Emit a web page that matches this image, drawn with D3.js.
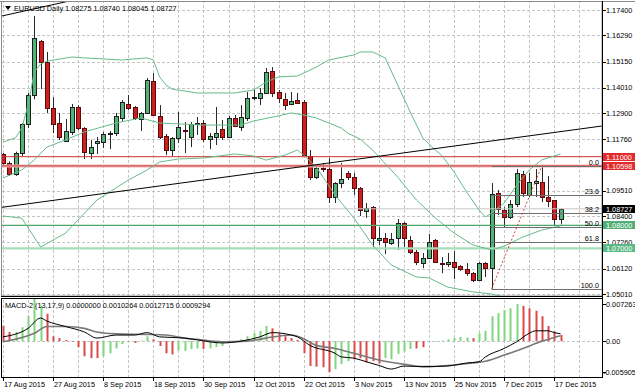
<!DOCTYPE html>
<html><head><meta charset="utf-8">
<script src="https://cdn.jsdelivr.net/npm/d3@7/dist/d3.min.js"></script>
<style>
html,body{margin:0;padding:0;background:#fff;}
svg{display:block;font-family:"Liberation Sans",Arial,sans-serif;}
</style></head><body>
<svg id="c" width="635" height="391"></svg>
<script>
// ---------------- DATA ----------------
const dateTickLabels = ["17 Aug 2015","27 Aug 2015","8 Sep 2015","18 Sep 2015","30 Sep 2015","12 Oct 2015","22 Oct 2015","3 Nov 2015","13 Nov 2015","25 Nov 2015","7 Dec 2015","17 Dec 2015"];
const dateTickBars = [0,8,16,24,32,40,48,56,64,72,80,88];
const priceTicks = [1.17400,1.16290,1.15150,1.14010,1.12900,1.11760,1.10620,1.09510,1.08400,1.07260,1.06120,1.05010];

const open  = [1.1110,1.1074,1.1024,1.1116,1.1243,1.1370,1.1605,1.1513,1.1312,1.1247,
               1.1168,1.1208,1.1317,1.1225,1.1116,1.1160,1.1164,1.1199,1.1203,1.1269,
               1.1330,1.1317,1.1264,1.1291,1.1430,1.1278,1.1190,1.1129,1.1182,1.1216,
               1.1186,1.1243,1.1247,1.1177,1.1186,1.1221,1.1186,1.1269,1.1229,1.1269,
               1.1356,1.1356,1.1378,1.1474,1.1382,1.1352,1.1330,1.1347,1.1339,1.1103,
               1.1011,1.1051,1.1046,1.0924,1.0985,1.1029,1.1011,1.0963,1.0863,1.0880,
               1.0736,1.0745,1.0723,1.0745,1.0811,1.0736,1.0684,1.0636,1.0658,1.0736,
               1.0636,1.0632,1.0640,1.0623,1.0610,1.0592,1.0562,1.0636,1.0614,1.0941,
               1.0867,1.0837,1.0894,1.1024,1.0933,1.0985,1.0989,1.0924,1.0911,1.08275];
const high  = [1.1116,1.1080,1.1122,1.1247,1.1378,1.1714,1.1609,1.1557,1.1360,1.1291,
               1.1264,1.1330,1.1325,1.1229,1.1173,1.1186,1.1208,1.1212,1.1291,1.1347,
               1.1369,1.1321,1.1295,1.1443,1.1465,1.1325,1.1199,1.1186,1.1295,1.1251,
               1.1251,1.1273,1.1260,1.1203,1.1317,1.1260,1.1278,1.1282,1.1325,1.1382,
               1.1395,1.1400,1.1487,1.1491,1.1391,1.1378,1.1382,1.1378,1.1347,1.1129,
               1.1064,1.1072,1.1094,1.0989,1.1072,1.1038,1.1029,1.0968,1.0898,1.0885,
               1.0793,1.0767,1.0767,1.0828,1.0815,1.0754,1.0693,1.0680,1.0763,1.0741,
               1.0662,1.0680,1.0688,1.0627,1.0636,1.0597,1.0640,1.0640,1.0985,1.0955,
               1.0880,1.0911,1.1046,1.1038,1.1029,1.1046,1.10598,1.1016,1.0911,1.08740];
const low   = [1.1062,1.1016,1.1016,1.1103,1.1225,1.1350,1.1395,1.1291,1.1203,1.1173,
               1.1164,1.1195,1.1216,1.1090,1.1090,1.1112,1.1138,1.1133,1.1190,1.1256,
               1.1304,1.1260,1.1212,1.1286,1.1278,1.1177,1.1107,1.1103,1.1160,1.1116,
               1.1142,1.1195,1.1164,1.1133,1.1151,1.1173,1.1182,1.1229,1.1212,1.1256,
               1.1347,1.1325,1.1373,1.1360,1.1334,1.1304,1.1325,1.1330,1.1103,1.0998,
               1.1003,1.1033,1.0898,1.0898,1.0963,1.0998,1.0933,1.0841,1.0833,1.0706,
               1.0715,1.0675,1.0715,1.0693,1.0706,1.0675,1.0627,1.0614,1.0654,1.0636,
               1.0592,1.0619,1.0566,1.0602,1.0580,1.0553,1.0558,1.0575,1.0524,1.0846,
               1.0793,1.0828,1.0880,1.0924,1.0924,1.0924,1.0902,1.0880,1.0802,1.08045];
const close = [1.1074,1.1024,1.1116,1.1243,1.1370,1.1618,1.1513,1.1312,1.1243,1.1186,
               1.1212,1.1317,1.1225,1.1120,1.1142,1.1168,1.1199,1.1203,1.1278,1.1339,
               1.1312,1.1269,1.1291,1.1435,1.1282,1.1186,1.1129,1.1182,1.1229,1.1212,
               1.1243,1.1247,1.1177,1.1190,1.1203,1.1186,1.1269,1.1234,1.1273,1.1356,
               1.1360,1.1378,1.1470,1.1378,1.1356,1.1325,1.1343,1.1334,1.1107,1.1011,
               1.1051,1.1046,1.0924,1.0985,1.1003,1.1011,1.0963,1.0867,1.0876,1.0745,
               1.0745,1.0728,1.0741,1.0811,1.0745,1.0684,1.0640,1.0658,1.0728,1.0640,
               1.0634,1.0640,1.0619,1.0610,1.0592,1.0562,1.0636,1.0614,1.0937,1.0872,
               1.0837,1.0894,1.1029,1.0941,1.0989,1.0994,1.0924,1.0907,1.0828,1.08727];

// Bollinger bands, read at sample bars: [bar, price]
const bbUpper = [[0,1.1164],[2,1.1182],[3,1.1225],[4,1.1325],[5,1.1470],[6,1.1504],[7,1.1517],[11,1.1535],[13,1.1531],[19,1.1522],[23,1.1531],[24,1.1522],[25,1.1448],[26,1.1413],[27,1.1395],[31,1.1378],[37,1.1378],[40,1.1391],[42,1.1426],[44,1.1448],[47,1.1452],[50,1.1491],[52,1.1522],[56,1.1544],[57,1.1557],[59,1.1557],[61,1.1531],[63,1.1413],[65,1.1295],[67,1.1182],[69,1.1129],[70,1.1107],[72,1.1033],[74,1.0946],[76,1.0867],[77,1.0837],[78,1.0854],[80,1.0898],[82,1.0976],[84,1.1042],[86,1.1086],[89,1.1112]];
const bbMiddle = [[0,1.1007],[3,1.1042],[5,1.1086],[7,1.1142],[10,1.1173],[13,1.1208],[18,1.1247],[22,1.1269],[25,1.1247],[32,1.1238],[38,1.1238],[40,1.1256],[44,1.1278],[46,1.1291],[48,1.1282],[50,1.1269],[54,1.1225],[55,1.1203],[57,1.1177],[59,1.1129],[63,1.1011],[66,1.0911],[69,1.0833],[72,1.0767],[75,1.0715],[78,1.0693],[80,1.0710],[83,1.0750],[86,1.0780],[89,1.0798]];
const bbLower = [[0,1.0841],[3,1.0832],[6,1.0706],[10,1.0767],[15,1.0911],[20,1.0998],[23,1.1042],[25,1.1077],[28,1.1090],[32,1.1094],[37,1.1112],[40,1.1103],[42,1.1085],[45,1.1107],[47,1.1129],[48,1.1107],[50,1.1055],[53,1.0933],[56,1.0833],[59,1.0715],[62,1.0627],[66,1.0575],[68,1.0571],[71,1.0531],[75,1.0510],[78,1.0501],[80,1.0488],[83,1.0431],[86,1.0387],[89,1.0366]];

// Horizontal levels
const levelRed1 = 1.11000;
const levelRed2 = 1.10598;
const levelGreen1 = 1.08000;
const levelGreen2 = 1.07000;
const lastPrice = 1.08727;

// Fibonacci retracement anchors
const fibLowBar = 78, fibLowPrice = 1.0524;
const fibHighBar = 86, fibHighPrice = 1.10598;
const fibLevels = [0.0, 23.6, 38.2, 50.0, 61.8, 100.0];

// Trend lines: [[bar, price],[bar, price]]
const trendMain = [[-0.16,1.08792],[95.6,1.12339]];
const trendTop  = [[-0.16,1.1714],[14,1.1800]];

// MACD-2 (13,17,9)
const macdHist = [0.0025,0.0015,0.0015,0.0023,0.0041,0.0071,0.0058,0.0045,0.0008,0.0005,
                  0.0002,-0.0001,-0.0010,-0.0025,-0.0028,-0.0028,-0.0025,-0.0020,-0.0012,-0.0005,
                  -0.0001,-0.0003,0.0001,0.0008,0.0003,-0.0008,-0.0020,-0.0022,-0.0015,-0.0016,
                  -0.0013,-0.0012,-0.0013,-0.0012,-0.0010,-0.0008,-0.0002,0.0000,0.0003,0.0008,
                  0.0013,0.0017,0.0025,0.0021,0.0013,0.0008,0.0005,0.0002,-0.0020,-0.0041,
                  -0.0042,-0.0043,-0.0051,-0.0046,-0.0038,-0.0033,-0.0030,-0.0028,-0.0035,-0.0033,
                  -0.0037,-0.0028,-0.0030,-0.0021,-0.0017,-0.0013,-0.0012,-0.0010,0.0000,0.0000,
                  0.0001,0.0003,0.0005,0.0007,0.0006,0.0005,0.0013,0.0017,0.0041,0.0046,
                  0.0051,0.0054,0.0061,0.0058,0.0054,0.0050,0.0041,0.0025,0.0016,0.0010];
const macdHistUp = [0,0,1,1,1,1,1,0,0,0, 0,0,0,0,0,0,1,1,1,1, 1,0,1,1,0,0,0,0,1,1,
                    1,1,0,1,1,1,1,1,1,1, 1,1,1,0,0,0,0,0,0,0, 0,0,0,1,1,1,0,0,0,0,
                    0,1,1,1,1,1,0,0,1,1, 1,1,1,1,1,0,1,1,1,1, 1,1,1,0,0,0,0,0,0,0];
const macdMain = [[0,0.0007],[4,0.0021],[6,0.0038],[7,0.0033],[10,0.0024],[13,0.0015],[15,0.0005],[18,0.0010],[21,0.0010],[23,0.0014],[25,0.0007],[29,0.0005],[31,0.0002],[35,-0.0003],[38,0.0000],[41,0.0007],[43,0.0014],[46,0.0010],[47,0.0007],[49,-0.0007],[53,-0.0020],[54,-0.0026],[56,-0.0028],[58,-0.0034],[60,-0.0040],[62,-0.0046],[64,-0.0041],[67,-0.0042],[71,-0.0041],[74,-0.0036],[76,-0.0034],[77,-0.0026],[80,-0.0012],[82,-0.0001],[84,0.0013],[85,0.0017],[87,0.0017],[88,0.0014],[89,0.0012]];
const macdSignal = [[0,-0.0001],[5,0.0013],[7,0.0024],[10,0.0024],[13,0.0021],[15,0.0015],[18,0.0012],[23,0.0011],[26,0.0010],[29,0.0005],[31,0.0003],[35,-0.0001],[39,0.0000],[42,0.0005],[46,0.0010],[48,0.0004],[50,-0.0007],[53,-0.0012],[56,-0.0020],[60,-0.0031],[64,-0.0038],[67,-0.0042],[71,-0.0040],[75,-0.0036],[77,-0.0033],[80,-0.0023],[83,-0.0012],[86,0.0000],[88,0.0006],[89,0.0009]];
const macdScaleMax = 0.007263, macdScaleMin = -0.005905;

// ---------------- DRAW ----------------
const svg = d3.select("#c");
const fnt = 7.3;
const plotL = 2, plotR = 602, mainT = 2, mainB = 296, subT = 299, subB = 377;

const x = d3.scaleLinear().domain([0, 89]).range([3, 3 + 89 * 6.265]);
const y = d3.scaleLinear().domain([1.0501, 1.1740]).range([294, 10]);
const ym = d3.scaleLinear().domain([macdScaleMin, macdScaleMax]).range([377, 297]);
const px = v => Math.round(v) + 0.5;

const defs = svg.append("defs");
defs.append("clipPath").attr("id","clipMain").append("rect").attr("x",plotL).attr("y",mainT).attr("width",plotR-plotL).attr("height",mainB-mainT);
defs.append("clipPath").attr("id","clipSub").append("rect").attr("x",plotL).attr("y",subT).attr("width",plotR-plotL).attr("height",subB-subT);

svg.append("rect").attr("width",635).attr("height",391).attr("fill","#fff");

const gMain = svg.append("g").attr("clip-path","url(#clipMain)");
const gSub = svg.append("g").attr("clip-path","url(#clipSub)");

const gridCol = "#c4c4c4";
// vertical grid
const gridBars = d3.range(0, 100, 4).filter(b => x(b) < plotR - 1);
gridBars.forEach(b => {
  [gMain, gSub].forEach(g => g.append("line")
    .attr("x1", px(x(b))).attr("x2", px(x(b)))
    .attr("y1", 0).attr("y2", 391)
    .attr("stroke", gridCol).attr("stroke-dasharray","3,2"));
});
// horizontal grid
priceTicks.forEach(t => {
  gMain.append("line").attr("x1",plotL).attr("x2",plotR)
    .attr("y1",px(y(t))).attr("y2",px(y(t)))
    .attr("stroke",gridCol).attr("stroke-dasharray","3,2");
});
gSub.append("line").attr("x1",plotL).attr("x2",plotR)
  .attr("y1",px(ym(0))).attr("y2",px(ym(0)))
  .attr("stroke",gridCol).attr("stroke-dasharray","3,2");

// candles
const idx = d3.range(open.length);
const cg = gMain.append("g");
idx.forEach(i => {
  const cx = Math.round(x(i));
  const up = close[i] >= open[i];
  cg.append("line").attr("x1",cx+0.5).attr("x2",cx+0.5)
    .attr("y1",y(high[i])).attr("y2",y(low[i]))
    .attr("stroke","#2a2a2a").attr("stroke-width",1);
  const top = Math.round(y(Math.max(open[i],close[i])));
  const bot = Math.round(y(Math.min(open[i],close[i])));
  const h = Math.max(bot - top, 1);
  cg.append("rect").attr("x",cx-1.5).attr("y",top+0.5).attr("width",4).attr("height",h)
    .attr("fill", up ? "#52b377" : "#cc1f1f")
    .attr("stroke", up ? "#1e1e1e" : "#5a0a0a").attr("stroke-width",1);
});

// horizontal level lines
const hline = (g, v, col, w) => g.append("line").attr("x1",plotL).attr("x2",plotR)
  .attr("y1",y(v)).attr("y2",y(v)).attr("stroke",col).attr("stroke-width",w);
hline(gMain, lastPrice, "#c6c6c6", 1);
hline(gMain, levelGreen2, "#a8ddb9", 2.2);
hline(gMain, levelGreen1, "#4ea86e", 1.2);
hline(gMain, levelRed2, "#f1b3b3", 3);
hline(gMain, levelRed2, "#cf3a3a", 1);
hline(gMain, levelRed1, "#cc3030", 1);

// Bollinger bands
const bbLine = d3.line().x(d => x(d[0])).y(d => y(d[1]));
[bbUpper, bbMiddle, bbLower].forEach(arr => {
  gMain.append("path").attr("d", bbLine(arr)).attr("fill","none")
    .attr("stroke","#66bb8a").attr("stroke-width",1);
});

// Fibonacci
const fibRange = fibHighPrice - fibLowPrice;
fibLevels.forEach(l => {
  const v = fibHighPrice - fibRange * l / 100;
  gMain.append("line").attr("x1", x(fibLowBar)).attr("x2", plotR)
    .attr("y1", px(y(v))).attr("y2", px(y(v)))
    .attr("stroke","#6e6e6e").attr("stroke-width",1);
  svg.append("text").attr("x", 599).attr("y", px(y(v)) - 2)
    .attr("text-anchor","end").attr("font-size",fnt).attr("fill","#000")
    .text(l.toFixed(1));
});
gMain.append("line").attr("x1",x(fibLowBar)).attr("y1",y(fibLowPrice))
  .attr("x2",x(fibHighBar)).attr("y2",y(fibHighPrice))
  .attr("stroke","#e03a3a").attr("stroke-dasharray","2,2").attr("stroke-width",1);

// trend lines
[trendMain, trendTop].forEach(t => {
  gMain.append("line").attr("x1",x(t[0][0])).attr("y1",y(t[0][1]))
    .attr("x2",x(t[1][0])).attr("y2",y(t[1][1]))
    .attr("stroke","#000").attr("stroke-width",1);
});

// MACD histogram
idx.forEach(i => {
  const v = macdHist[i];
  const y0 = ym(0), y1 = ym(v);
  gSub.append("rect").attr("x", Math.round(x(i)) - 0.5).attr("width", 2)
    .attr("y", Math.min(y0,y1)).attr("height", Math.max(Math.abs(y1-y0), 0.5))
    .attr("fill", macdHistUp[i] ? "#7fd67f" : "#d94a4a");
});
const mLine = d3.line().x(d => x(d[0])).y(d => ym(d[1])).curve(d3.curveMonotoneX);
gSub.append("path").attr("d", mLine(macdSignal)).attr("fill","none").attr("stroke","#7a7a7a").attr("stroke-width",1.6);
gSub.append("path").attr("d", mLine(macdMain)).attr("fill","none").attr("stroke","#000").attr("stroke-width",1);

// frames
svg.append("line").attr("x1",0).attr("x2",635).attr("y1",1.5).attr("y2",1.5).attr("stroke","#8c8c8c");
svg.append("rect").attr("x",1.5).attr("y",1.5).attr("width",plotR-1.5).attr("height",mainB-1.5)
  .attr("fill","none").attr("stroke","#8c8c8c");
svg.append("line").attr("x1",1).attr("x2",plotR).attr("y1",296.5).attr("y2",296.5).attr("stroke","#000");
svg.append("line").attr("x1",1).attr("x2",plotR).attr("y1",298.5).attr("y2",298.5).attr("stroke","#000");
svg.append("line").attr("x1",1.5).attr("x2",1.5).attr("y1",298).attr("y2",377).attr("stroke","#000");
svg.append("line").attr("x1",1).attr("x2",plotR).attr("y1",377.5).attr("y2",377.5).attr("stroke","#000");
svg.append("line").attr("x1",plotR+0.5).attr("x2",plotR+0.5).attr("y1",1).attr("y2",378).attr("stroke","#000");

// right price axis
priceTicks.forEach(t => {
  svg.append("line").attr("x1",plotR).attr("x2",plotR+4).attr("y1",px(y(t))).attr("y2",px(y(t))).attr("stroke","#000");
  svg.append("text").attr("x",606).attr("y",y(t)).attr("dy","0.35em")
    .attr("font-size",fnt).attr("fill","#000").text(t.toFixed(5));
});
const box = (v, bg, label) => {
  const yy = Math.round(y(v));
  svg.append("rect").attr("x",603).attr("y",yy-4).attr("width",33).attr("height",8).attr("fill",bg);
  svg.append("text").attr("x",606).attr("y",yy).attr("dy","0.35em")
    .attr("font-size",fnt).attr("fill","#fff").text(label);
};
box(levelRed1, "#e42b2b", levelRed1.toFixed(5));
box(levelRed2, "#e42b2b", levelRed2.toFixed(5));
box(levelGreen1, "#52ad76", levelGreen1.toFixed(5));
box(levelGreen2, "#5cb985", levelGreen2.toFixed(5));
box(lastPrice, "#000", lastPrice.toFixed(5));

// MACD axis
[[macdScaleMax, "0.007263", 304, 606],[0, "0.00", ym(0), 606],[macdScaleMin, "-0.005905", 372, 603]].forEach(d => {
  svg.append("line").attr("x1",plotR).attr("x2",plotR+4).attr("y1",px(d[2])).attr("y2",px(d[2])).attr("stroke","#000");
  svg.append("text").attr("x",d[3]).attr("y",d[2]).attr("dy","0.35em").attr("font-size",fnt).attr("fill","#000").text(d[1]);
});

// date axis
dateTickBars.forEach((b, k) => {
  const xx = px(x(b));
  svg.append("line").attr("x1",xx).attr("x2",xx).attr("y1",377).attr("y2",381).attr("stroke","#000");
  svg.append("text").attr("x",xx+0.5).attr("y",384).attr("dy","0.35em").attr("font-size",fnt).attr("fill","#000").text(dateTickLabels[k]);
});

// headers
svg.append("path").attr("d","M5,6 L11,6 L8,10 Z").attr("fill","#000");
svg.append("text").attr("x",14).attr("y",8).attr("dy","0.35em").attr("font-size",fnt).attr("fill","#000")
  .text("EURUSD Daily  " + [open[89], high[89], low[89], close[89]].map(v => v.toFixed(5)).join(" "));
svg.append("text").attr("x",5).attr("y",305).attr("dy","0.35em").attr("font-size",fnt).attr("fill","#000")
  .text("MACD-2 (13,17,9) 0.0000000 0.0010264 0.0012715 0.0009294");
</script>
</body></html>
